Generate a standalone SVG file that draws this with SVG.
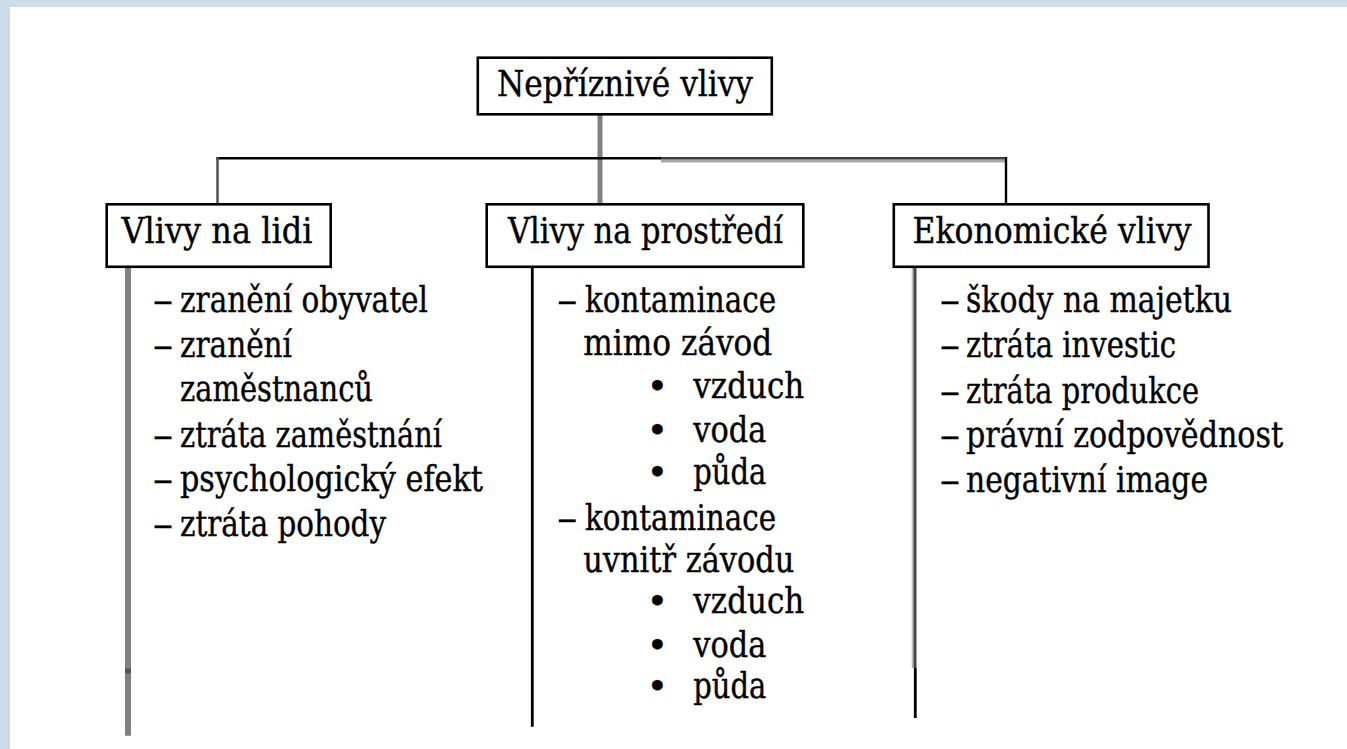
<svg xmlns="http://www.w3.org/2000/svg" width="1347" height="749" viewBox="0 0 1347 749">
<style>
  .box { fill: #ffffff; stroke: #000000; stroke-width: 2.6; }
  .title { font-family: 'DejaVu Serif', 'Liberation Serif', serif; font-size: 35px; fill: #000000; stroke: #000000; stroke-width: 0.4px; }
  .item text { font-family: 'DejaVu Serif', 'Liberation Serif', serif; font-size: 34.5px; fill: #000000; stroke: #000000; stroke-width: 0.4px; }
  .item .bul { text-anchor: middle; font-size: 36px; }
</style>
<rect x="0" y="0" width="1347" height="749" fill="#ffffff"/>
<rect x="0" y="0" width="1347" height="7" fill="#ccdde9"/>
<rect x="0" y="0" width="10" height="749" fill="#ccdde9"/>

<g id="connectors">
  <line x1="600" y1="111" x2="600" y2="203" stroke="#808080" stroke-width="5"/>
  <line x1="661" y1="161" x2="1005" y2="161" stroke="#a8a8a8" stroke-width="3"/>
  <line x1="216" y1="158.3" x2="661" y2="158.3" stroke="#000000" stroke-width="2.6"/>
  <line x1="661" y1="158.3" x2="1007" y2="158.3" stroke="#404040" stroke-width="2.6"/>
  <line x1="217.5" y1="157" x2="217.5" y2="203" stroke="#555555" stroke-width="2.6"/>
  <line x1="1006" y1="157" x2="1006" y2="203" stroke="#000000" stroke-width="2.4"/>
  <line x1="128" y1="268" x2="128" y2="735.7" stroke="#808080" stroke-width="6"/>
  <line x1="128" y1="668.5" x2="128" y2="673.5" stroke="#555555" stroke-width="6"/>
  <line x1="532.3" y1="268" x2="532.3" y2="726.7" stroke="#000000" stroke-width="2.8"/>
  <line x1="912.7" y1="268" x2="912.7" y2="668" stroke="#bbbbbb" stroke-width="2"/>
  <line x1="915" y1="268" x2="915" y2="668" stroke="#444444" stroke-width="3"/>
  <line x1="915.3" y1="668" x2="915.3" y2="718" stroke="#000000" stroke-width="2.8"/>
</g>

<g id="node-root">
  <rect class="box" x="477.8" y="57.7" width="294" height="56.6"/>
  <text class="title" x="497" y="96" textLength="256" lengthAdjust="spacingAndGlyphs">Nepříznivé vlivy</text>
</g>

<g id="node-lide">
  <rect class="box" x="106.7" y="204.3" width="224" height="62.5"/>
  <text class="title" x="121.4" y="242.7" textLength="191" lengthAdjust="spacingAndGlyphs">Vlivy na lidi</text>
</g>

<g id="node-prostredi">
  <rect class="box" x="486.7" y="204.3" width="316.6" height="62.5"/>
  <text class="title" x="508" y="242.7" textLength="275" lengthAdjust="spacingAndGlyphs">Vlivy na prostředí</text>
</g>

<g id="node-ekonomicke">
  <rect class="box" x="893.8" y="204.3" width="314.7" height="62.5"/>
  <text class="title" x="912.5" y="242.7" textLength="279" lengthAdjust="spacingAndGlyphs">Ekonomické vlivy</text>
</g>

<g id="list-lide" class="item">
  <text x="153" y="311.7" textLength="20" lengthAdjust="spacingAndGlyphs">–</text>
  <text x="180" y="311.7" textLength="248" lengthAdjust="spacingAndGlyphs">zranění obyvatel</text>
  <text x="153" y="357.3" textLength="20" lengthAdjust="spacingAndGlyphs">–</text>
  <text x="180" y="357.3" textLength="112" lengthAdjust="spacingAndGlyphs">zranění</text>
  <text x="180" y="400.7" textLength="193" lengthAdjust="spacingAndGlyphs">zaměstnanců</text>
  <text x="153" y="446.7" textLength="20" lengthAdjust="spacingAndGlyphs">–</text>
  <text x="180" y="446.7" textLength="262" lengthAdjust="spacingAndGlyphs">ztráta zaměstnání</text>
  <text x="153" y="490.5" textLength="20" lengthAdjust="spacingAndGlyphs">–</text>
  <text x="180" y="490.5" textLength="303" lengthAdjust="spacingAndGlyphs">psychologický efekt</text>
  <text x="153" y="536" textLength="20" lengthAdjust="spacingAndGlyphs">–</text>
  <text x="180" y="536" textLength="206" lengthAdjust="spacingAndGlyphs">ztráta pohody</text>
</g>

<g id="list-prostredi" class="item">
  <text x="557.3" y="311.7" textLength="20" lengthAdjust="spacingAndGlyphs">–</text>
  <text x="585" y="311.7" textLength="191" lengthAdjust="spacingAndGlyphs">kontaminace</text>
  <text x="583.3" y="355" textLength="189" lengthAdjust="spacingAndGlyphs">mimo závod</text>
  <text class="bul" x="657.3" y="398.3">•</text>
  <text x="693.3" y="398.3" textLength="111" lengthAdjust="spacingAndGlyphs">vzduch</text>
  <text class="bul" x="657.3" y="441.7">•</text>
  <text x="693.3" y="441.7" textLength="73" lengthAdjust="spacingAndGlyphs">voda</text>
  <text class="bul" x="657.3" y="483.8">•</text>
  <text x="693.3" y="483.8" textLength="73" lengthAdjust="spacingAndGlyphs">půda</text>
  <text x="557.3" y="530" textLength="20" lengthAdjust="spacingAndGlyphs">–</text>
  <text x="585" y="530" textLength="191" lengthAdjust="spacingAndGlyphs">kontaminace</text>
  <text x="583.3" y="571.7" textLength="211" lengthAdjust="spacingAndGlyphs">uvnitř závodu</text>
  <text class="bul" x="657.3" y="613.3">•</text>
  <text x="693.3" y="613.3" textLength="111" lengthAdjust="spacingAndGlyphs">vzduch</text>
  <text class="bul" x="657.3" y="656.7">•</text>
  <text x="693.3" y="656.7" textLength="73" lengthAdjust="spacingAndGlyphs">voda</text>
  <text class="bul" x="657.3" y="698.3">•</text>
  <text x="693.3" y="698.3" textLength="73" lengthAdjust="spacingAndGlyphs">půda</text>
</g>

<g id="list-ekonomicke" class="item">
  <text x="940" y="311.7" textLength="20" lengthAdjust="spacingAndGlyphs">–</text>
  <text x="966" y="311.7" textLength="266" lengthAdjust="spacingAndGlyphs">škody na majetku</text>
  <text x="940" y="357.3" textLength="20" lengthAdjust="spacingAndGlyphs">–</text>
  <text x="966" y="357.3" textLength="210" lengthAdjust="spacingAndGlyphs">ztráta investic</text>
  <text x="940" y="403" textLength="20" lengthAdjust="spacingAndGlyphs">–</text>
  <text x="966" y="403" textLength="233" lengthAdjust="spacingAndGlyphs">ztráta produkce</text>
  <text x="940" y="446.7" textLength="20" lengthAdjust="spacingAndGlyphs">–</text>
  <text x="966" y="446.7" textLength="317" lengthAdjust="spacingAndGlyphs">právní zodpovědnost</text>
  <text x="940" y="491.7" textLength="20" lengthAdjust="spacingAndGlyphs">–</text>
  <text x="966" y="491.7" textLength="242" lengthAdjust="spacingAndGlyphs">negativní image</text>
</g>
</svg>
